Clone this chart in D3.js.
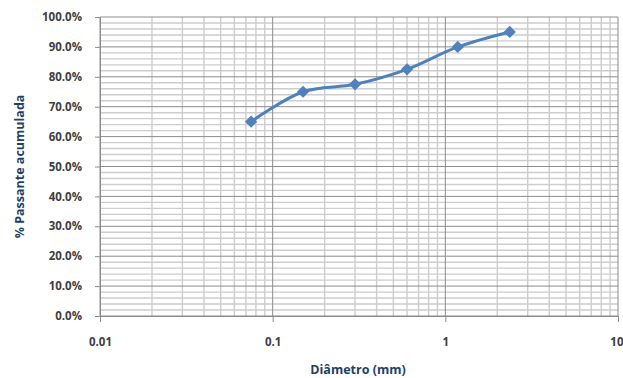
<!DOCTYPE html>
<html>
<head>
<meta charset="utf-8">
<script src="https://cdn.jsdelivr.net/npm/d3@7"></script>
<style>
  body { margin: 0; background: #fff; }
  svg text { font-family: "Open Sans", "DejaVu Sans", sans-serif; }
</style>
</head>
<body>
<div id="chart"></div>
<script>
// sieve diameters (mm) and cumulative passing (%)
var diameters = [0.075, 0.15, 0.3, 0.6, 1.18, 2.36];
var passing = [65.0, 75.0, 77.5, 82.5, 90.0, 95.0];
var xTicks = [0.01, 0.1, 1, 10];
var yTicks = [0, 10, 20, 30, 40, 50, 60, 70, 80, 90, 100];

var width = 623, height = 378;
var margin = {left: 100, right: 5, top: 17, bottom: 62};

var svg = d3.select("#chart").append("svg")
    .attr("width", width).attr("height", height);

var xScale = d3.scaleLog()
    .domain([0.01, 10])
    .range([margin.left, width - margin.right]);

var yScale = d3.scaleLinear()
    .domain([0, 100])
    .range([height - margin.bottom, margin.top]);

// minor grid: 2..9 in each decade, every 2% vertically
var minorX = [];
[0.01, 0.1, 1].forEach(function(dec){
    for (var k = 2; k <= 9; k++) minorX.push(dec * k);
});
var minorY = d3.range(0, 101, 2).filter(function(v){ return v % 10 != 0; });

var grid = svg.append("g");
grid.selectAll(".mx").data(minorX).enter().append("line")
    .attr("x1", function(d){ return xScale(d); })
    .attr("x2", function(d){ return xScale(d); })
    .attr("y1", yScale(0)).attr("y2", yScale(100))
    .attr("stroke", "#cdcdcd").attr("stroke-width", 1.4);
grid.selectAll(".my").data(minorY).enter().append("line")
    .attr("x1", xScale(0.01)).attr("x2", xScale(10))
    .attr("y1", function(d){ return yScale(d); })
    .attr("y2", function(d){ return yScale(d); })
    .attr("stroke", "#cdcdcd").attr("stroke-width", 1.4);
grid.selectAll(".My").data(yTicks).enter().append("line")
    .attr("x1", xScale(0.01)).attr("x2", xScale(10))
    .attr("y1", function(d){ return yScale(d); })
    .attr("y2", function(d){ return yScale(d); })
    .attr("stroke", "#8c8c8c").attr("stroke-width", 1);
grid.selectAll(".Mx").data(xTicks).enter().append("line")
    .attr("x1", function(d){ return xScale(d); })
    .attr("x2", function(d){ return xScale(d); })
    .attr("y1", yScale(0)).attr("y2", yScale(100))
    .attr("stroke", "#8c8c8c").attr("stroke-width", 1);

// axes
var yAxis = svg.append("g")
    .attr("transform", "translate(" + margin.left + ",0)")
    .call(d3.axisLeft(yScale).tickValues(yTicks).tickSize(5).tickPadding(13)
        .tickFormat(function(d){ return d.toFixed(1) + "%"; }));
var xAxis = svg.append("g")
    .attr("transform", "translate(0," + yScale(0) + ")")
    .call(d3.axisBottom(xScale).tickValues(xTicks).tickSize(6).tickPadding(16)
        .tickFormat(function(d){ return String(d); }));

[yAxis, xAxis].forEach(function(ax){
    ax.select(".domain").attr("stroke", "#8c8c8c");
    ax.selectAll(".tick line").attr("stroke", "#8c8c8c");
    ax.selectAll(".tick text")
        .attr("fill", "#404040")
        .style("font-size", "11.5px")
        .style("font-weight", "bold");
});
// keep the last x label inside the frame
xAxis.selectAll(".tick text").filter(function(d){ return d == 10; })
    .attr("text-anchor", "end").attr("dx", "5px");

// series
var line = d3.line()
    .x(function(d){ return xScale(d[0]); })
    .y(function(d){ return yScale(d[1]); })
    .curve(d3.curveCatmullRom.alpha(0.5));
var pts = diameters.map(function(d, i){ return [d, passing[i]]; });

svg.append("path")
    .datum(pts)
    .attr("d", line)
    .attr("fill", "none")
    .attr("stroke", "#4f81bd")
    .attr("stroke-width", 3);

svg.selectAll(".dot").data(pts).enter().append("path")
    .attr("class", "dot")
    .attr("transform", function(d){ return "translate(" + xScale(d[0]) + "," + yScale(d[1]) + ")"; })
    .attr("d", d3.symbol().type(d3.symbolDiamond2).size(95))
    .attr("fill", "#4f81bd");

// axis titles
svg.append("text")
    .attr("x", 358).attr("y", 374)
    .attr("text-anchor", "middle")
    .attr("fill", "#1f3f66")
    .style("font-size", "12.5px").style("font-weight", "bold")
    .text("Diâmetro (mm)");
svg.append("text")
    .attr("transform", "translate(24," + yScale(50) + ") rotate(-90)")
    .attr("text-anchor", "middle")
    .attr("fill", "#1f3f66")
    .style("font-size", "12.5px").style("font-weight", "bold")
    .text("% Passante acumulada");
</script>
</body>
</html>
